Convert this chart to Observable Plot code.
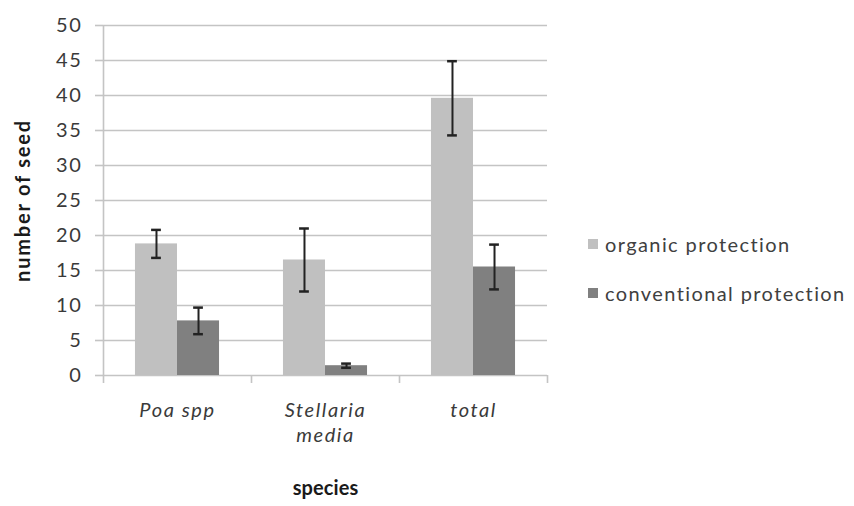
<!DOCTYPE html>
<html><head><meta charset="utf-8">
<script src="https://cdn.jsdelivr.net/npm/d3@7"></script>
<script src="https://cdn.jsdelivr.net/npm/@observablehq/plot@0.6"></script>
<style>
body{margin:0;background:#fff;font-family:Lato,"Open Sans",sans-serif;}
#wrap{position:relative;width:854px;height:506px;overflow:hidden;}
#legend{position:absolute;left:588px;top:231px;font-size:20px;letter-spacing:1.4px;color:#404040;}
#legend .row{display:flex;align-items:center;height:26px;margin-bottom:23px;white-space:nowrap;}
#legend .sw{width:10px;height:10px;margin-right:7px;}
</style></head><body><div id="wrap"></div>
<script>
// ---- data ----
const species = ["Poa spp", "Stellaria\nmedia", "total"];
const series = ["organic protection", "conventional protection"];
const organicMean = [18.8, 16.5, 39.6];
const organicErr = [2.0, 4.5, 5.3];
const conventionalMean = [7.8, 1.4, 15.5];
const conventionalErr = [1.9, 0.3, 3.2];
const seriesColors = ["#c0c0c0", "#808080"];
const yTicks = [0, 5, 10, 15, 20, 25, 30, 35, 40, 45, 50];
const xTitle = "species";
const yTitle = "number of seed";

// ---- table ----
const BAR = 0.284;   // bar width as a fraction of a category slot
const CAP = 0.033;   // half width of an error-bar cap
const rows = [];
species.forEach((sp, i) => {
  rows.push({i, species: sp, series: series[0], k: 0, mean: organicMean[i], err: organicErr[i]});
  rows.push({i, species: sp, series: series[1], k: 1, mean: conventionalMean[i], err: conventionalErr[i]});
});
const left = d => d.i + 0.5 - BAR + d.k * BAR;
const mid = d => left(d) + BAR / 2;

const gridColor = "#c4c4c4";
const plot = Plot.plot({
  width: 854, height: 506,
  marginLeft: 103, marginRight: 307, marginTop: 25, marginBottom: 131,
  style: {fontFamily: "Lato, 'Open Sans', sans-serif", fontSize: "20px", letterSpacing: "1.6px", color: "#404040", background: "white"},
  x: {domain: [0, species.length], axis: null},
  y: {domain: [0, 50], axis: null},
  color: {domain: series, range: seriesColors},
  marks: [
    Plot.ruleY(yTicks, {stroke: gridColor, strokeWidth: 1.6}),
    Plot.axisY({ticks: yTicks, tickSize: 8, tickPadding: 13, stroke: gridColor, strokeWidth: 1.6, fill: "#3a3a3a", tickFormat: d => String(d), label: null}),
    Plot.ruleX([0], {stroke: gridColor, strokeWidth: 1.6}),
    Plot.axisX({ticks: d3.range(species.length + 1), tickSize: 8, stroke: gridColor, strokeWidth: 1.6, tickFormat: () => "", label: null}),
    Plot.axisX({ticks: species.map((s, i) => i + 0.5), tickSize: 0, tickPadding: 24, tickFormat: d => species[Math.floor(d)], fontStyle: "italic", fill: "#3a3a3a", lineHeight: 1.25, label: null}),
    Plot.rectY(rows, {x1: left, x2: d => left(d) + BAR, y1: 0, y2: "mean", fill: "series"}),
    Plot.ruleX(rows, {x: mid, y1: d => d.mean - d.err, y2: d => d.mean + d.err, stroke: "#222", strokeWidth: 2}),
    Plot.ruleY(rows, {y: d => d.mean + d.err, x1: d => mid(d) - CAP, x2: d => mid(d) + CAP, stroke: "#222", strokeWidth: 2.5}),
    Plot.ruleY(rows, {y: d => d.mean - d.err, x1: d => mid(d) - CAP, x2: d => mid(d) + CAP, stroke: "#222", strokeWidth: 2.5}),
    Plot.text([xTitle], {frameAnchor: "bottom", dy: 119, fontWeight: "bold", fill: "#1a1a1a", fontSize: 20}),
    Plot.text([yTitle], {frameAnchor: "left", textAnchor: "middle", dx: -80, rotate: -90, fontWeight: "bold", fill: "#1a1a1a", fontSize: 20})
  ]
});
// tighter tracking for the x-axis title, a bit wider for the y-axis title
d3.select(plot).selectAll("text").each(function() {
  if (this.textContent === xTitle) this.setAttribute("letter-spacing", "0.1px");
  if (this.textContent === yTitle) this.setAttribute("letter-spacing", "1.8px");
});
const wrap = document.getElementById("wrap");
wrap.appendChild(plot);
const lg = document.createElement("div");
lg.id = "legend";
series.forEach((s, j) => {
  const r = document.createElement("div"); r.className = "row";
  const sw = document.createElement("span"); sw.className = "sw"; sw.style.background = seriesColors[j];
  const t = document.createElement("span"); t.textContent = s;
  r.appendChild(sw); r.appendChild(t); lg.appendChild(r);
});
wrap.appendChild(lg);
</script></body></html>
